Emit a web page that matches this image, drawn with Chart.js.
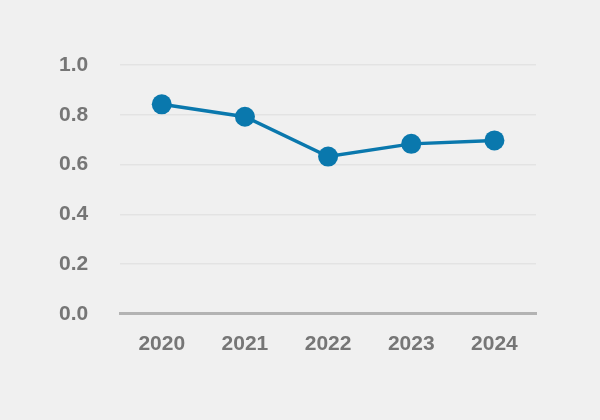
<!DOCTYPE html>
<html lang="en">
<head>
  <meta charset="UTF-8">
  <title>Yearly Ratio</title>
  <script src="https://cdn.jsdelivr.net/npm/chart.js"></script>
  <style>
    html, body { margin: 0; padding: 0; background: #f0f0f0; }
    #wrap { width: 600px; height: 420px; }
  </style>
</head>
<body>
  <div id="wrap"><canvas id="myChart"></canvas></div>

  <script>
    // Data
    const years = ['2020', '2021', '2022', '2023', '2024'];
    const values = [0.842, 0.792, 0.632, 0.683, 0.697];
    const yTicks = [0.0, 0.2, 0.4, 0.6, 0.8, 1.0];

    const lineColor = '#0a78ad';
    const labelFont = { family: "'Liberation Sans', Arial, sans-serif", size: 21, weight: 'bold' };

    const ctx = document.getElementById('myChart').getContext('2d');
    new Chart(ctx, {
      type: 'line',
      data: {
        labels: years,
        datasets: [{
          data: values,
          borderColor: lineColor,
          backgroundColor: lineColor,
          borderWidth: 3.5,
          pointRadius: 10,
          pointHoverRadius: 10,
          pointBackgroundColor: lineColor,
          pointBorderWidth: 0,
          tension: 0,
          clip: false
        }]
      },
      options: {
        responsive: true,
        maintainAspectRatio: false,
        animation: false,
        layout: { padding: { left: 27, right: 64, top: 65, bottom: 53 } },
        plugins: { legend: { display: false }, tooltip: { enabled: false } },
        scales: {
          x: {
            offset: true,
            grid: { display: false },
            border: { display: true, color: '#b3b3b3', width: 3 },
            ticks: { color: '#767676', font: labelFont, padding: 10 }
          },
          y: {
            min: 0,
            max: 1,
            afterBuildTicks: (axis) => { axis.ticks = yTicks.map(v => ({ value: v })); },
            grid: { color: '#e3e3e3', lineWidth: 1.5, drawTicks: false },
            border: { display: false },
            ticks: {
              color: '#767676',
              font: labelFont,
              padding: 32,
              callback: (v) => Number(v).toFixed(1)
            }
          }
        }
      }
    });
  </script>
</body>
</html>
